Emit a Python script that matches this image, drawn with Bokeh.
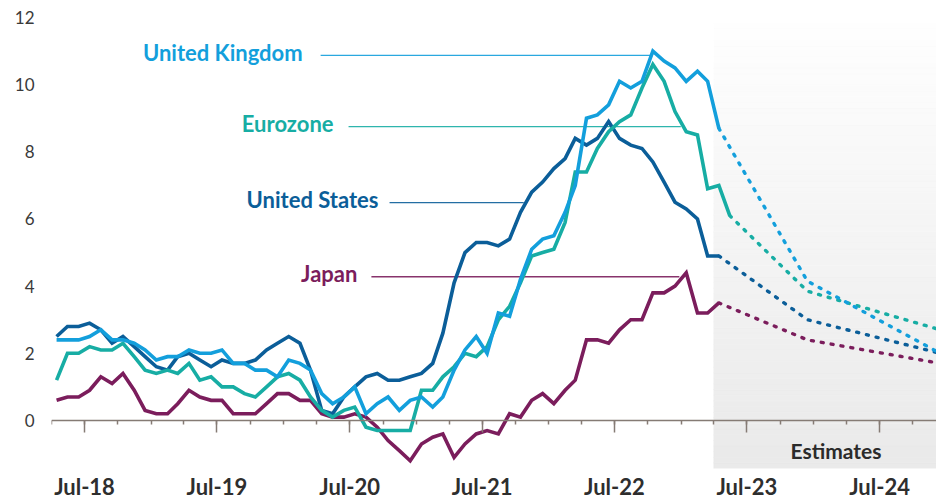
import numpy as np
import pandas as pd
from bokeh.plotting import figure
from bokeh.models import (ColumnDataSource, DatetimeAxis, FixedTicker, DatetimeTickFormatter,
                          CustomJSTickFormatter, Range1d)
from bokeh.core.properties import value
from bokeh.embed import file_html
from bokeh.resources import INLINE

# ---------------- data ----------------
first_month = "2018-04"
last_month = "2023-05"

us = [2.5, 2.8, 2.8, 2.9, 2.7, 2.3, 2.5, 2.2, 1.9,
      1.6, 1.5, 1.9, 2.0, 1.8, 1.6, 1.8, 1.7, 1.7, 1.8, 2.1, 2.3,
      2.5, 2.3, 1.5, 0.3, 0.2, 0.7, 1.0, 1.3, 1.4, 1.2, 1.2, 1.3,
      1.4, 1.7, 2.6, 4.1, 5.0, 5.3, 5.3, 5.2, 5.4, 6.2, 6.8, 7.1,
      7.5, 7.8, 8.4, 8.2, 8.4, 8.9, 8.4, 8.2, 8.1, 7.7, 7.1, 6.5,
      6.3, 6.0, 4.9, 4.9, np.nan]
uk = [2.4, 2.4, 2.4, 2.5, 2.7, 2.4, 2.4, 2.3, 2.1,
      1.8, 1.9, 1.9, 2.1, 2.0, 2.0, 2.1, 1.7, 1.7, 1.5, 1.5, 1.3,
      1.8, 1.7, 1.5, 0.8, 0.5, 0.7, 1.0, 0.2, 0.5, 0.7, 0.3, 0.6,
      0.7, 0.4, 0.7, 1.5, 2.1, 2.5, 2.0, 3.2, 3.1, 4.2, 5.1, 5.4,
      5.5, 6.2, 7.0, 9.0, 9.1, 9.4, 10.1, 9.9, 10.1, 11.0, 10.7, 10.5,
      10.1, 10.4, 10.1, 8.7, np.nan]
ez = [1.2, 2.0, 2.0, 2.2, 2.1, 2.1, 2.3, 1.9, 1.5,
      1.4, 1.5, 1.4, 1.7, 1.2, 1.3, 1.0, 1.0, 0.8, 0.7, 1.0, 1.3,
      1.4, 1.2, 0.7, 0.3, 0.1, 0.3, 0.4, -0.2, -0.3, -0.3, -0.3, -0.3,
      0.9, 0.9, 1.3, 1.6, 2.0, 1.9, 2.2, 3.0, 3.4, 4.1, 4.9, 5.0,
      5.1, 5.9, 7.4, 7.4, 8.1, 8.6, 8.9, 9.1, 9.9, 10.6, 10.1, 9.2,
      8.6, 8.5, 6.9, 7.0, 6.1]
jp = [0.6, 0.7, 0.7, 0.9, 1.3, 1.1, 1.4, 0.9, 0.3,
      0.2, 0.2, 0.5, 0.9, 0.7, 0.6, 0.6, 0.2, 0.2, 0.2, 0.5, 0.8,
      0.8, 0.6, 0.6, 0.2, 0.1, 0.1, 0.2, 0.1, -0.2, -0.6, -0.9, -1.2,
      -0.7, -0.5, -0.4, -1.1, -0.7, -0.4, -0.3, -0.4, 0.2, 0.1, 0.6, 0.8,
      0.5, 0.9, 1.2, 2.4, 2.4, 2.3, 2.7, 3.0, 3.0, 3.8, 3.8, 4.0,
      4.4, 3.2, 3.2, 3.5, np.nan]

est_months = ["2023-12", "2024-12"]
us_est = [3.0, 2.0]
uk_est = [4.15, 2.0]
ez_est = [3.85, 2.7]
jp_est = [2.4, 1.7]

series_names = ["Japan", "United States", "Eurozone", "United Kingdom"]
series_colors = ["#7b1d5c", "#0b5e99", "#17ada4", "#139fdc"]

# labels / leader lines
label_names = ["United Kingdom", "Eurozone", "United States", "Japan"]
label_colors = ["#139fdc", "#17ada4", "#0b5e99", "#7b1d5c"]
leader_y = [10.87, 8.75, 6.49, 4.28]
leader_x0 = ["2020-04-12", "2020-06-28", "2020-10-19", "2020-08-30"]
leader_x1 = ["2022-10-08", "2022-12-31", "2021-10-24", "2022-12-27"]
label_gap = [-18, -15, -11, -14]

y_ticks = [0, 2, 4, 6, 8, 10, 12]
x_tick_dates = ["2018-07-01", "2019-07-01", "2020-07-01", "2021-07-01",
                "2022-07-01", "2023-07-01", "2024-07-01"]
x_tick_labels = ["Jul-18", "Jul-19", "Jul-20", "Jul-21", "Jul-22", "Jul-23", "Jul-24"]
estimates_start = "2023-04-01"
estimates_text = "Estimates"

# ---------------- helpers ----------------
def mid_month(periods):
    return pd.PeriodIndex(periods, freq="M").to_timestamp() + pd.Timedelta(days=14)

def to_ms(dates):
    d = pd.to_datetime(pd.Series(dates))
    return [float((x - pd.Timestamp("1970-01-01")) / pd.Timedelta(milliseconds=1)) for x in d]

months = pd.period_range(first_month, last_month, freq="M")
dates = mid_month(months)
est_dates = mid_month(est_months)

x_start = pd.Timestamp("2018-04-01")
x_end = pd.Timestamp("2024-12-05")
y_start, y_end = -1.43, 12.0

p = figure(width=936, height=503, x_axis_type="datetime",
           x_range=Range1d(x_start, x_end), y_range=Range1d(y_start, y_end),
           output_backend="svg", toolbar_location=None,
           min_border_left=51, min_border_right=0, min_border_top=17, min_border_bottom=35,
           background_fill_color="white", border_fill_color="white")
p.outline_line_color = None
p.grid.visible = False

# gradient estimates panel
n_bands = 80
edges = np.linspace(y_start, y_end, n_bands + 1)
shade = np.linspace(234, 255, n_bands)
band_colors = ["#%02x%02x%02x" % (int(s), int(s), int(s)) for s in shade]
p.quad(left=[pd.Timestamp(estimates_start)] * n_bands, right=[pd.Timestamp("2025-03-01")] * n_bands,
       bottom=edges[:-1], top=edges[1:], fill_color=band_colors, line_color=band_colors,
       line_width=0.6)

# leader lines
p.segment(x0=pd.to_datetime(leader_x0), y0=leader_y, x1=pd.to_datetime(leader_x1), y1=leader_y,
          line_color=label_colors, line_width=1.3, line_alpha=0.9)

# series
vals = {"Japan": (jp, jp_est), "United States": (us, us_est),
        "Eurozone": (ez, ez_est), "United Kingdom": (uk, uk_est)}
for name, col in zip(series_names, series_colors):
    act, est = vals[name]
    arr = np.array(act, dtype=float)
    p.line(x=dates, y=arr, line_color=col, line_width=3.6, line_join="miter")
    last = np.where(~np.isnan(arr))[0][-1]
    ex = [dates[last]] + list(est_dates)
    ey = [arr[last]] + list(est)
    p.line(x=ex, y=ey, line_color=col, line_width=3.4, line_dash="2 8", line_cap="round")

# labels
lab_src = ColumnDataSource(dict(x=pd.to_datetime(leader_x0), y=leader_y, text=label_names,
                                color=label_colors, dx=label_gap))
p.text(x="x", y="y", text="text", source=lab_src, text_color="color",
       text_align="right", text_baseline="alphabetic", x_offset="dx", y_offset=-3,
       text_font=value("Lato"), text_font_style="bold", text_font_size="22px")

p.text(x=[pd.Timestamp("2024-03-03")], y=[-1.13], text=[estimates_text],
       text_color="#2b2b2b", text_align="center", text_baseline="alphabetic", y_offset=-8,
       text_font=value("Lato"), text_font_style="bold", text_font_size="21px")

# x axis labels (at the bottom of the frame)
major_ms = to_ms(x_tick_dates)
minor_ms = to_ms(pd.date_range("2018-04-01", "2024-10-01", freq="3MS"))

axB = p.below[0]
axB.ticker = FixedTicker(ticks=major_ms, minor_ticks=[])
axB.formatter = DatetimeTickFormatter(years="%b-%y", months="%b-%y", days="%b-%y")
axB.axis_line_color = None
axB.major_tick_line_color = None
axB.minor_tick_line_color = None
axB.major_tick_out = 0
axB.major_tick_in = 0
axB.minor_tick_out = 0
axB.minor_tick_in = 0
axB.major_label_standoff = 4
axB.major_label_text_font = "Lato"
axB.major_label_text_font_style = "bold"
axB.major_label_text_font_size = "22px"
axB.major_label_text_color = "#2e2e2e"

# x axis line and ticks at y = 0
axA = DatetimeAxis(ticker=FixedTicker(ticks=major_ms, minor_ticks=minor_ms),
                   formatter=CustomJSTickFormatter(code="return ''"),
                   fixed_location=0,
                   axis_line_color="#857b74", axis_line_width=1.5,
                   major_tick_line_color="#857b74", major_tick_line_width=1.5,
                   minor_tick_line_color="#857b74", minor_tick_line_width=1.5,
                   major_tick_in=0, major_tick_out=12, minor_tick_in=0, minor_tick_out=4,
                   major_label_text_font_size="0px", major_label_standoff=0)
p.add_layout(axA, "below")

ya = p.yaxis[0]
ya.ticker = FixedTicker(ticks=y_ticks, minor_ticks=[])
ya.axis_line_color = None
ya.major_tick_line_color = None
ya.minor_tick_line_color = None
ya.major_tick_out = 0
ya.major_tick_in = 0
ya.major_label_standoff = 17
ya.major_label_text_font = "Lato"
ya.major_label_text_font_size = "17px"
ya.major_label_text_color = "#3a3a3a"

open("out.html", "w").write(file_html(p, INLINE))
